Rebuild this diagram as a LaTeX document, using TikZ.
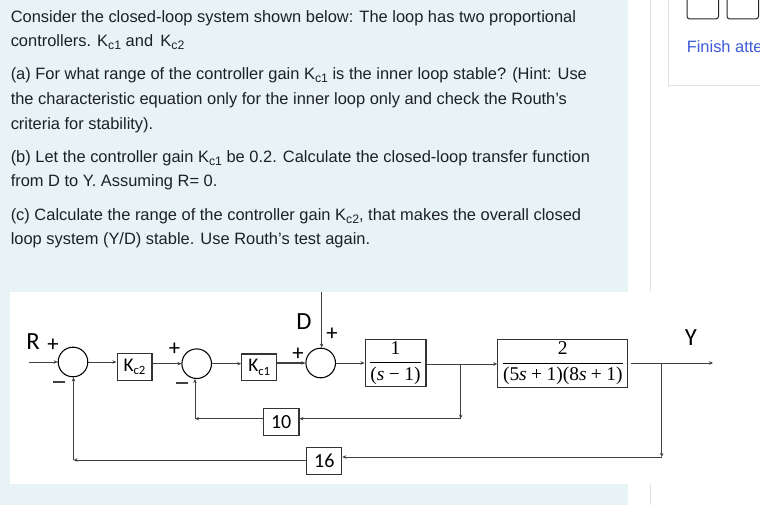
\documentclass[tikz,border=0pt]{standalone}
\usepackage[no-math]{fontspec}
\usepackage{amsmath}
\setmainfont{Liberation Sans}[Ligatures=Common]
\newfontfamily\calib{Carlito}
\newfontfamily\fracfont{Liberation Serif}
\usetikzlibrary{arrows.meta}
\definecolor{panelbg}{HTML}{E7F3F5}
\definecolor{inktext}{HTML}{1D2125}
\definecolor{linkblue}{HTML}{3F5BD8}
\definecolor{hairline}{HTML}{DEE2E6}
\newcommand{\sbs}[1]{\raisebox{-2.6pt}{\fontsize{9.2}{10}\selectfont #1}}
\newcommand{\vs}{\textit{s}}
\newcommand{\pl}{\hspace{3.3pt}+\hspace{3.3pt}}
\newcommand{\mn}{\hspace{3.3pt}−\hspace{3.3pt}}
\newcommand{\fracshift}[1]{\raisebox{-1.8pt}{#1}}
\tikzset{
  x=0.75pt,y=-0.75pt,
  para/.style={anchor=base west,inner sep=0pt,text=inktext,font=\fontsize{12.33}{14}\selectfont},
  sumj/.style={circle,draw=black,line width=0.8pt,minimum size=22.2pt,inner sep=0pt,fill=white},
  blockk/.style={draw=black!80,line width=0.8pt,fill=white,inner sep=0pt,align=center},
  conn/.style={draw=black!75,line width=0.7pt,-{Stealth[length=3pt,width=2.6pt]}},
  seg/.style={draw=black!75,line width=0.7pt},
  lab/.style={inner sep=0pt,text=black,font=\calib\fontsize{18.5}{20}\selectfont},
  sign/.style={inner sep=0pt,text=black,font=\calib\fontsize{17}{19}\selectfont},
  frac/.style={font=\fracfont\fontsize{14.6}{17}\selectfont}
}
\begin{document}
\begin{tikzpicture}
\useasboundingbox (0,0) rectangle (760,505);
\fill[white] (0,0) rectangle (760,505);
\fill[panelbg] (0,0) rectangle (628,505);
\fill[white] (10,292) rectangle (628,484);
% page furniture
\draw[hairline,line width=0.75pt] (650.5,0) -- (650.5,291);
\draw[hairline,line width=0.75pt] (650.5,484) -- (650.5,505);
\draw[hairline,line width=0.75pt] (668.5,-1) -- (668.5,85.5) -- (761,85.5);
\draw[black!85,line width=0.75pt,rounded corners=2pt] (687,-6) rectangle (718.5,19);
\draw[black!85,line width=0.75pt,rounded corners=2pt] (727,-6) rectangle (758.5,19);
\node[para,text=linkblue] (finish) at (686.5,52.5) {Finish atte};
% question text
\node[para] (t1) at (10.5,22.5) {Consider the closed-loop system shown below: The loop has two proportional};
\node[para] (t2) at (10.5,46.5) {controllers. K\sbs{c1} and\, K\sbs{c2}};
\node[para] (t3) at (10.5,79.5) {(a) For what range of the controller gain K\sbs{c1} is the inner loop stable? (Hint: Use};
\node[para] (t4) at (10.5,104.5) {the characteristic equation only for the inner loop only and check the Routh's};
\node[para] (t5) at (10.5,129.5) {criteria for stability).};
\node[para] (t6) at (10.5,162.5) {(b) Let the controller gain K\sbs{c1} be 0.2. Calculate the closed-loop transfer function};
\node[para] (t7) at (10.5,186.5) {from D to Y. Assuming R= 0.};
\node[para] (t8) at (10.5,220.5) {(c) Calculate the range of the controller gain K\sbs{c2}, that makes the overall closed};
\node[para] (t9) at (10.5,244.5) {loop system (Y/D) stable. Use Routh’s test again.};
% blocks
\node[sumj] (s1) at (73,362) {};
\node[sumj] (s2) at (196.7,363.7) {};
\node[sumj] (s3) at (320.7,363) {};
\node[blockk,minimum width=26.2pt,minimum height=20.2pt,font=\calib\fontsize{14.5}{15}\selectfont] (kc2) at (134.5,366.8) {K\raisebox{-2.6pt}{\fontsize{9.5}{11}\selectfont c2}};
\node[blockk,minimum width=26.2pt,minimum height=20.2pt,font=\calib\fontsize{14.5}{15}\selectfont] (kc1) at (259.2,367.5) {K\raisebox{-2.6pt}{\fontsize{9.5}{11}\selectfont c1}};
\node[blockk,minimum width=45.7pt,minimum height=35.5pt,frac] (g1) at (395.5,363) {\fracshift{$\dfrac{\rule[-0.4pt]{0pt}{10pt}\text{1}}{\rule{0pt}{10.5pt}\text{(\vs\mn{}1)}}$}};
\node[blockk,minimum width=97.7pt,minimum height=35.5pt,frac] (g2) at (562.8,363.5) {\fracshift{$\dfrac{\rule[-0.4pt]{0pt}{10pt}\text{2}}{\rule{0pt}{10.5pt}\text{(5\vs\pl{}1)(8\vs\pl{}1)}}$}};
\node[blockk,minimum width=26.7pt,minimum height=20.5pt,font=\calib\fontsize{15}{17}\selectfont] (b10) at (281.2,422) {10};
\node[blockk,minimum width=26.2pt,minimum height=20.2pt,font=\calib\fontsize{15}{17}\selectfont] (b16) at (324.3,460.8) {16};
% free ends and junctions
\coordinate (rin) at (29,362);
\coordinate (dtop) at (321.7,292);
\coordinate (yout) at (713,363);
\coordinate (gout) at (631,363);
\coordinate (j1) at (460.7,364);
\coordinate (j2) at (661.7,363);
\coordinate (c1) at (460.7,418.7);
\coordinate (c2) at (661.7,457);
\coordinate (c3) at (195,418.7);
\coordinate (c4) at (73.5,460);
% forward path
\draw[conn] (rin) -- (s1.west);
\draw[conn] (s1.east) -- (s1.east -| kc2.west);
\draw[conn,line width=1pt] (kc2.east |- s2.west) -- (s2.west);
\draw[conn] (s2.east) -- (s2.east -| kc1.west);
\draw[conn,line width=1pt] (kc1.east |- s3.west) -- (s3.west);
\draw[conn] (s3.east) -- (s3.east -| g1.west);
\draw[conn] (g1.east |- j1) -- (g2.west |- j1);
\draw[conn] (gout) -- (yout);
\draw[conn] (dtop) -- (dtop |- s3.north);
% inner feedback
\draw[conn] (j1) -- (c1);
\draw[conn] (c1) -- (b10.east |- c1);
\draw[conn] (b10.west |- c3) -- (c3);
\draw[conn] (c3) -- (c3 |- s2.south);
% outer feedback
\draw[conn] (j2) -- (c2);
\draw[conn] (c2) -- (b16.east |- c2);
\draw[conn] (b16.west |- c4) -- (c4);
\draw[conn] (c4) -- (c4 |- s1.south);
% labels
\node[lab] (lr) at (33,342) {R};
\node[sign] (pr) at (53,345) {+};
\node[lab] (ld) at (304,322) {D};
\node[sign] (pd) at (332,334.5) {+};
\node[lab] (ly) at (691,337.5) {Y};
\node[sign] (p2) at (174.5,349.5) {+};
\node[sign] (p3) at (298,354.5) {+};
\draw[seg,line width=1pt] (53,382) -- (65,382);
\draw[seg,line width=1pt] (176,383) -- (188,383);
\end{tikzpicture}
\end{document}
